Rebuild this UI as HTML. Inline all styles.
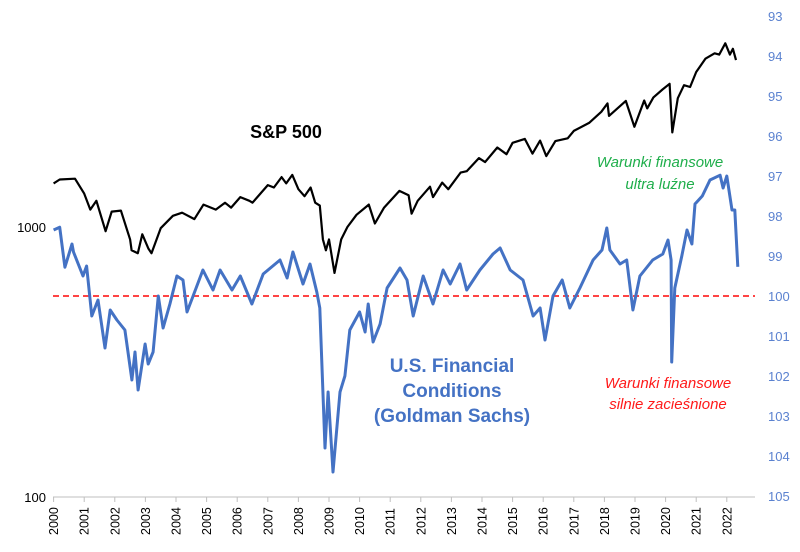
<!DOCTYPE html>
<html><head><meta charset="utf-8"><style>
body{margin:0;background:#fff;}
svg text{font-family:"Liberation Sans","DejaVu Sans",sans-serif;}
</style></head><body>
<svg id="chart" width="800" height="547" viewBox="0 0 800 547" xmlns="http://www.w3.org/2000/svg">
<g id="axes"></g>
<line x1="53" x2="755" y1="296" y2="296" stroke="#ff2a2a" stroke-width="1.8" stroke-dasharray="6,4"/>
<g id="series"></g>
<text x="286" y="138" font-size="18" font-weight="bold" text-anchor="middle" fill="#000">S&amp;P 500</text>
<g fill="#4472c4" font-size="19" font-weight="bold" text-anchor="middle">
<text x="452" y="372">U.S. Financial</text><text x="452" y="397">Conditions</text><text x="452" y="422">(Goldman Sachs)</text></g>
<g fill="#1fae4b" font-size="15" font-style="italic" text-anchor="middle">
<text x="660" y="167">Warunki finansowe</text><text x="660" y="189">ultra luźne</text></g>
<g fill="#ff1a1a" font-size="15" font-style="italic" text-anchor="middle">
<text x="668" y="388">Warunki finansowe</text><text x="668" y="409">silnie zacieśnione</text></g>
</svg>
<script>
const spYears=[2000.0,2000.2,2000.7,2001.0,2001.2,2001.4,2001.7,2001.9,2002.2,2002.5,2002.55,2002.75,2002.9,2003.1,2003.2,2003.5,2003.9,2004.2,2004.6,2004.9,2005.3,2005.6,2005.8,2006.1,2006.4,2006.5,2007.0,2007.2,2007.45,2007.6,2007.8,2008.0,2008.2,2008.4,2008.55,2008.7,2008.8,2008.9,2009.0,2009.18,2009.4,2009.6,2009.9,2010.3,2010.5,2010.8,2011.3,2011.6,2011.7,2011.9,2012.3,2012.4,2012.7,2012.9,2013.3,2013.5,2013.9,2014.1,2014.5,2014.8,2015.0,2015.4,2015.65,2015.9,2016.1,2016.4,2016.8,2017.0,2017.5,2017.9,2018.1,2018.15,2018.7,2018.98,2019.3,2019.4,2019.6,2019.9,2020.13,2020.22,2020.4,2020.6,2020.8,2021.0,2021.3,2021.6,2021.75,2021.95,2022.1,2022.2,2022.3];
const spValues=[1450,1500,1510,1330,1160,1250,965,1140,1150,900,820,800,940,830,800,990,1100,1130,1070,1210,1160,1230,1180,1290,1250,1230,1430,1400,1530,1450,1560,1380,1300,1400,1230,1200,900,820,900,676,900,1000,1110,1210,1030,1180,1360,1310,1120,1250,1410,1290,1460,1380,1590,1610,1800,1740,1970,1860,2050,2120,1870,2090,1830,2080,2130,2270,2430,2670,2870,2580,2930,2350,2940,2750,3020,3230,3390,2240,3000,3350,3300,3750,4200,4400,4350,4790,4350,4570,4150];
const fciYears=[2000.0,2000.2,2000.37,2000.6,2000.65,2000.96,2001.08,2001.25,2001.45,2001.68,2001.85,2002.07,2002.33,2002.56,2002.66,2002.76,2002.99,2003.09,2003.25,2003.42,2003.58,2003.8,2004.03,2004.23,2004.36,2004.56,2004.88,2005.21,2005.44,2005.83,2006.1,2006.48,2006.85,2007.4,2007.63,2007.82,2008.15,2008.38,2008.6,2008.7,2008.87,2008.97,2009.13,2009.36,2009.52,2009.68,2010.0,2010.18,2010.28,2010.44,2010.67,2010.9,2011.32,2011.55,2011.75,2012.08,2012.4,2012.73,2012.96,2013.28,2013.5,2013.93,2014.36,2014.59,2014.92,2015.34,2015.67,2015.9,2016.06,2016.32,2016.62,2016.87,2017.2,2017.63,2017.92,2018.08,2018.18,2018.51,2018.73,2018.93,2019.16,2019.58,2019.91,2020.08,2020.18,2020.2,2020.3,2020.53,2020.7,2020.86,2020.96,2021.2,2021.45,2021.78,2021.88,2022.0,2022.17,2022.26,2022.36];
const fciValues=[98.35,98.28,99.28,98.7,98.9,99.5,99.25,100.5,100.1,101.3,100.35,100.6,100.85,102.1,101.4,102.35,101.2,101.7,101.4,100.0,100.8,100.2,99.5,99.6,100.4,100.0,99.35,99.85,99.35,99.85,99.5,100.2,99.45,99.1,99.55,98.9,99.7,99.2,99.9,100.3,103.8,102.4,104.4,102.4,102.0,100.85,100.4,100.9,100.2,101.15,100.7,99.8,99.3,99.6,100.5,99.5,100.2,99.35,99.7,99.2,99.85,99.35,98.95,98.8,99.35,99.6,100.5,100.3,101.1,100.0,99.6,100.3,99.8,99.1,98.85,98.3,98.85,99.2,99.1,100.35,99.5,99.1,98.95,98.6,99.1,101.65,99.8,99.0,98.35,98.7,97.7,97.5,97.1,96.98,97.3,97.0,97.85,97.85,99.27];
const yearTicks=[2000,2001,2002,2003,2004,2005,2006,2007,2008,2009,2010,2011,2012,2013,2014,2015,2016,2017,2018,2019,2020,2021,2022];
const leftTicks=[100,1000];
const rightTicks=[93,94,95,96,97,98,99,100,101,102,103,104,105];

const NS="http://www.w3.org/2000/svg";
const xS=y=>53.6+(y-2000)*30.6;
const yL=v=>497-270*Math.log10(v/100);
const yR=v=>16+(v-93)*40;
function mk(tag,attrs,parent){const e=document.createElementNS(NS,tag);for(const k in attrs)e.setAttribute(k,attrs[k]);parent.appendChild(e);return e;}
const axes=document.getElementById('axes'), series=document.getElementById('series');
const ax=mk('line',{x1:53,x2:755,y1:497,y2:497,stroke:'#bfbfbf','stroke-width':1},axes);


yearTicks.forEach(y=>{
  const x=xS(y);
  const t=mk('line',{x1:x,x2:x,y1:497,y2:502,stroke:'#bfbfbf'},axes);
  
  
  const l=mk('text',{x:0,y:0,transform:`translate(${x+4.5},535) rotate(-90)`,'font-size':12.5,fill:'#000'},axes);
  l.textContent=y;
  
  
});
leftTicks.forEach(v=>{
  const l=mk('text',{x:46,y:yL(v)+5,'font-size':13,'text-anchor':'end',fill:'#000'},axes);
  l.textContent=v;
  
  
});
rightTicks.forEach(v=>{
  const l=mk('text',{x:768,y:yR(v)+5,'font-size':13,fill:'#5b82d0'},axes);
  l.textContent=v;
  
  
});
const sp=mk('polyline',{points:spYears.map((y,i)=>xS(y).toFixed(1)+','+yL(spValues[i]).toFixed(1)).join(' '),fill:'none',stroke:'#000','stroke-width':2.2,'stroke-linejoin':'round'},series);


const fci=mk('polyline',{points:fciYears.map((y,i)=>xS(y).toFixed(1)+','+yR(fciValues[i]).toFixed(1)).join(' '),fill:'none',stroke:'#4472c4','stroke-width':3,'stroke-linejoin':'round'},series);


</script>
</body></html>
